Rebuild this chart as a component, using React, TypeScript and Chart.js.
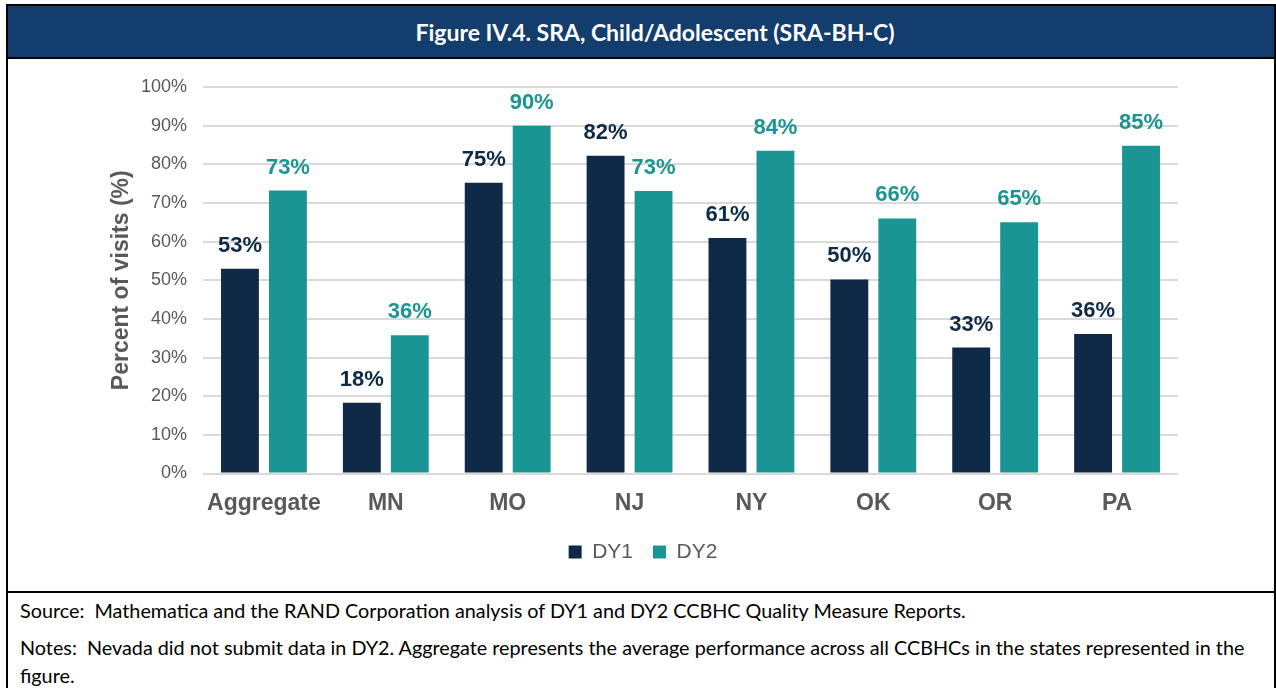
import React, { useEffect, useRef } from "react";
import { Chart, registerables } from "chart.js";

Chart.register(...registerables);

const categories = ["Aggregate", "MN", "MO", "NJ", "NY", "OK", "OR", "PA"];
const dy1Values = [53, 18.3, 75.2, 82.2, 60.9, 50.2, 32.6, 36.1];
const dy2Values = [73.2, 35.8, 90, 73.1, 83.5, 66, 65, 84.8];
const seriesNames = ["DY1", "DY2"];
const seriesColors = ["#0e2a47", "#1a9593"];
const titleText = "Figure IV.4. SRA, Child/Adolescent (SRA-BH-C)";
const yAxisTitle = "Percent of visits (%)";
const sourceLine = "Source:\u00a0 Mathematica and the RAND Corporation analysis of DY1 and DY2 CCBHC Quality Measure Reports.";
const notesLine1 = "Notes:\u00a0 Nevada did not submit data in DY2. Aggregate represents the average performance across all CCBHCs in the states represented in the";
const notesLine2 = "figure.";

const FONT = "'Liberation Sans', Arial, sans-serif";
const GRAY = "#595959";

const valueLabels = {
  id: "valueLabels",
  afterDatasetsDraw(chart: any) {
    const ctx = chart.ctx;
    ctx.save();
    ctx.font = `bold 22px ${FONT}`;
    ctx.textAlign = "center";
    ctx.textBaseline = "alphabetic";
    chart.data.datasets.forEach((ds: any, i: number) => {
      const meta = chart.getDatasetMeta(i);
      ctx.fillStyle = seriesColors[i];
      meta.data.forEach((bar: any, j: number) => {
        const v = ds.data[j];
        ctx.fillText(Math.round(v) + "%", bar.x, bar.y - 17);
      });
    });
    ctx.restore();
  },
};

export default function App() {
  const ref = useRef<HTMLCanvasElement>(null);

  useEffect(() => {
    const chart = new Chart(ref.current as HTMLCanvasElement, {
      type: "bar",
      data: {
        labels: categories,
        datasets: [
          {
            label: seriesNames[0],
            data: dy1Values,
            backgroundColor: seriesColors[0],
            categoryPercentage: 0.787,
            barPercentage: 0.79,
          },
          {
            label: seriesNames[1],
            data: dy2Values,
            backgroundColor: seriesColors[1],
            categoryPercentage: 0.787,
            barPercentage: 0.79,
          },
        ],
      },
      options: {
        animation: false,
        responsive: false,
        maintainAspectRatio: false,
        layout: { padding: { left: 100, right: 96, top: 28, bottom: 18.5 } },
        plugins: {
          tooltip: { enabled: false },
          legend: {
            position: "bottom",
            labels: {
              boxWidth: 13,
              boxHeight: 13,
              padding: 20,
              color: GRAY,
              font: { family: FONT, size: 21 },
            },
          },
        },
        scales: {
          x: {
            grid: { display: false },
            border: { display: false },
            ticks: {
              color: GRAY,
              font: { family: FONT, size: 23, weight: "bold" },
              padding: 8,
              maxRotation: 0,
            },
            afterFit: (s: any) => {
              s.height = 48;
            },
          },
          y: {
            min: 0,
            max: 100,
            border: { display: false },
            grid: { color: "#d9d9d9", lineWidth: 2, drawTicks: false },
            ticks: {
              stepSize: 10,
              color: GRAY,
              padding: 16,
              font: { family: FONT, size: 18 },
              callback: (v: any) => v + "%",
            },
            title: {
              display: true,
              text: yAxisTitle,
              color: GRAY,
              font: { family: FONT, size: 23, weight: "bold" },
              padding: { top: 0, bottom: 0 },
            },
            afterFit: (s: any) => {
              s.width = 95;
            },
          },
        },
      },
      plugins: [valueLabels],
    } as any);
    return () => chart.destroy();
  }, []);

  const footerStyle: React.CSSProperties = {
    position: "absolute",
    left: 20,
    fontFamily: "Lato, 'Noto Sans', sans-serif",
    fontSize: 19.8,
    lineHeight: "28px",
    color: "#000",
    whiteSpace: "nowrap",
  };

  return (
    <div
      style={{
        position: "absolute",
        left: 0,
        top: 0,
        width: 1276,
        height: 688,
        background: "#fff",
        overflow: "hidden",
      }}
    >
      <div style={{ position: "absolute", left: 6, top: 4, width: 1270, height: 2, background: "#000" }} />
      <div style={{ position: "absolute", left: 6, top: 4, width: 2, height: 684, background: "#000" }} />
      <div style={{ position: "absolute", left: 1274, top: 4, width: 2, height: 684, background: "#000" }} />
      <div
        style={{
          position: "absolute",
          left: 8,
          top: 6,
          width: 1266,
          height: 51,
          background: "#133d6c",
          color: "#fff",
          display: "flex",
          alignItems: "center",
          justifyContent: "center",
          paddingLeft: 28,
          boxSizing: "border-box",
          fontFamily: "Lato, 'Noto Sans', sans-serif",
          fontWeight: 700,
          fontSize: 23,
          whiteSpace: "nowrap",
        }}
      >
        {titleText}
      </div>
      <div style={{ position: "absolute", left: 8, top: 57, width: 1266, height: 2, background: "#000" }} />
      <canvas
        ref={ref}
        width={1266}
        height={532}
        style={{ position: "absolute", left: 8, top: 59, width: 1266, height: 532 }}
      />
      <div style={{ position: "absolute", left: 8, top: 591, width: 1266, height: 2, background: "#000" }} />
      <div style={{ ...footerStyle, top: 596 }}>{sourceLine}</div>
      <div style={{ ...footerStyle, top: 633 }}>{notesLine1}</div>
      <div style={{ ...footerStyle, top: 661 }}>{notesLine2}</div>
    </div>
  );
}
